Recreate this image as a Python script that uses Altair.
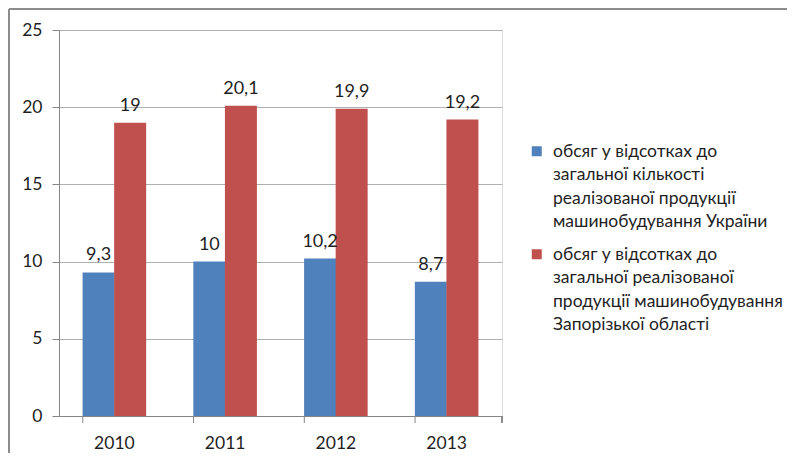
import altair as alt
import pandas as pd

years = ["2010", "2011", "2012", "2013"]
series_names = [
    "обсяг у відсотках до|загальної кількості|реалізованої продукції|машинобудування України",
    "обсяг у відсотках до|загальної реалізованої|продукції машинобудування|Запорізької області",
]
ukraine = [9.3, 10, 10.2, 8.7]
zaporizhzhia = [19, 20.1, 19.9, 19.2]
colors = ["#4F81BD", "#C0504D"]

rows = []
for i, y in enumerate(years):
    rows.append({"year": y, "series": series_names[0], "value": ukraine[i]})
    rows.append({"year": y, "series": series_names[1], "value": zaporizhzhia[i]})
df = pd.DataFrame(rows)
df["label"] = df["value"].map(lambda v: (f"{v:g}").replace(".", ","))

W, H = 443, 386
FONT = "Lato"
TXT = "#1f1f1f"

x_enc = alt.X("year:N", title=None,
              scale=alt.Scale(paddingInner=0.43, paddingOuter=0.215),
              axis=alt.Axis(labelAngle=0, ticks=False, domain=True, domainColor="#868686",
                            labelFontSize=17.5, labelColor=TXT, labelPadding=18,
                            labelFont=FONT))

base = alt.Chart(df)

bars = base.mark_bar(size=32).encode(
    x=x_enc,
    xOffset=alt.XOffset("series:N", sort=series_names),
    y=alt.Y("value:Q", title=None,
            scale=alt.Scale(domain=[0, 25], nice=False),
            axis=alt.Axis(values=[0, 5, 10, 15, 20, 25], tickSize=7, tickColor="#868686",
                          domainColor="#868686", gridColor="#b0b0b0",
                          labelFontSize=17.5, labelColor=TXT, labelPadding=10,
                          labelFont=FONT)),
    color=alt.Color("series:N", sort=series_names,
                    scale=alt.Scale(domain=series_names, range=colors),
                    legend=alt.Legend(title=None, orient="none", legendX=469, legendY=118,
                                      symbolType="M-1,-2.1H1V-0.1H-1Z", symbolSize=100,
                                      symbolStrokeWidth=0,
                                      labelExpr="split(datum.label, '|')",
                                      labelFontSize=17.5, labelFont=FONT, labelColor=TXT,
                                      labelLimit=400, labelOffset=7.5, rowPadding=14,
                                      labelBaseline="alphabetic", padding=0)),
)

labels = base.mark_text(baseline="alphabetic", dy=-12, fontSize=18, font=FONT, color=TXT).encode(
    x=alt.X("year:N"),
    xOffset=alt.XOffset("series:N", sort=series_names),
    y=alt.Y("value:Q"),
    text="label:N",
)

ticks_df = pd.DataFrame({"year": years})
xticks = alt.Chart(ticks_df).mark_rule(color="#868686").encode(
    x=alt.X("year:N", bandPosition=0),
    y=alt.value(H),
    y2=alt.value(H + 7),
)
last_tick = alt.Chart(ticks_df).mark_rule(color="#868686").encode(
    x=alt.value(W), y=alt.value(H), y2=alt.value(H + 7)
)
frame_top = alt.Chart(ticks_df).mark_rule(color="#8c8c8c", strokeWidth=2).encode(
    x=alt.value(-50), x2=alt.value(760), y=alt.value(-21)
)
frame_left = alt.Chart(ticks_df).mark_rule(color="#8c8c8c", strokeWidth=2).encode(
    x=alt.value(-50), y=alt.value(-21), y2=alt.value(440)
)

chart = alt.layer(bars, labels, xticks, last_tick, frame_top, frame_left).properties(
    width=W, height=H,
    autosize=alt.AutoSizeParams(type="none"),
    padding={"left": 51, "top": 22, "right": 285, "bottom": 37},
    background="white",
).configure_view(strokeWidth=0).configure(style={"guide-label": {"lineHeight": 23.5}})

chart.save("out.html", embed_options={"renderer": "svg", "actions": False})
